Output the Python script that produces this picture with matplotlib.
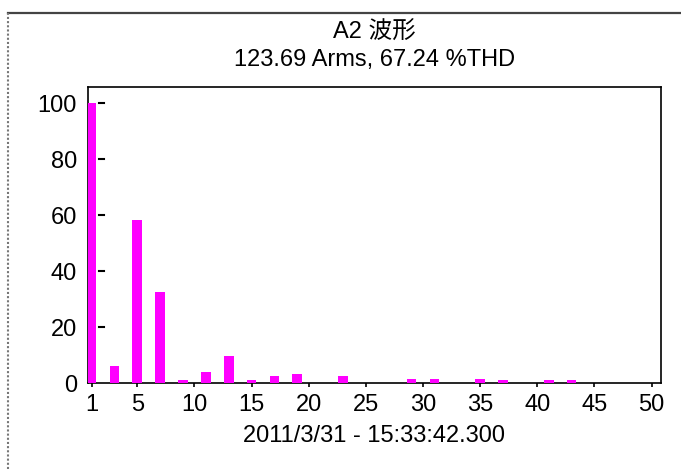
import matplotlib
matplotlib.use("Agg")
import matplotlib.pyplot as plt
from matplotlib.lines import Line2D
import matplotlib.transforms as mtransforms

plt.rcParams['font.family'] = ['Liberation Sans', 'Noto Sans CJK SC', 'DejaVu Sans']

# Data: harmonic order and magnitude (% of fundamental)
orders = list(range(1, 51))
magnitudes = [100, 0, 6.1, 0, 58.3, 0, 32.6, 0, 1.0, 0,
              3.9, 0, 9.7, 0, 1.0, 0, 2.6, 0, 3.3, 0,
              0, 0, 2.6, 0, 0, 0, 0, 0, 1.7, 0,
              1.7, 0, 0, 0, 1.7, 0, 1.0, 0, 0, 0,
              1.0, 0, 1.0, 0, 0, 0, 0, 0, 0, 0]
xticks = [1, 5, 10, 15, 20, 25, 30, 35, 40, 45, 50]
yticks = [0, 20, 40, 60, 80, 100]
title1 = "A2 波形"
title2 = "123.69 Arms, 67.24 %THD"
xlabel = "2011/3/31 - 15:33:42.300"

FS = 17

fig = plt.figure(figsize=(6.81, 4.69), dpi=100)
ax = fig.add_axes([88/681, 1-383.3/469, (660.7-88)/681, (383.3-87.3)/469])

ax.bar(orders, magnitudes, width=0.85, color='#FF00FF', zorder=3)
ax.set_xlim(0.69, 50.8)
ax.set_ylim(0, 105.7)

ax.set_xticks(xticks)
ax.set_yticks(yticks)
ax.tick_params(axis='x', direction='out', length=3, width=1.2, pad=4.5,
               labelsize=FS, colors='black')
ax.tick_params(axis='y', length=0, pad=8.0, labelsize=FS)

# detached inner tick dashes on the y axis
trans = mtransforms.blended_transform_factory(ax.transAxes, ax.transData)
for v in yticks[1:]:
    ax.plot([0.0192, 0.028], [v, v], color='black', lw=1.5, transform=trans,
            clip_on=False, zorder=2)

for s in ax.spines.values():
    s.set_linewidth(1.2)
    s.set_color('black')

ax.set_xlabel(xlabel, fontsize=FS, labelpad=7)

cx = (88 + 660.7) / 2 / 681
fig.text(cx, 1 - 33/469, title1, ha='center', va='center', fontsize=FS)
fig.text(cx, 1 - 60/469, title2, ha='center', va='center', fontsize=FS)

# window frame lines
fig.add_artist(Line2D([8/681, 1], [1 - 13.3/469, 1 - 13.3/469],
                      transform=fig.transFigure, color='#444444', lw=1.6))
fig.add_artist(Line2D([8/681, 8/681], [0, 1 - 13.3/469],
                      transform=fig.transFigure, color='#777777', lw=1.5,
                      linestyle=(0, (1, 1))))

fig.savefig("out.png", dpi=100)
